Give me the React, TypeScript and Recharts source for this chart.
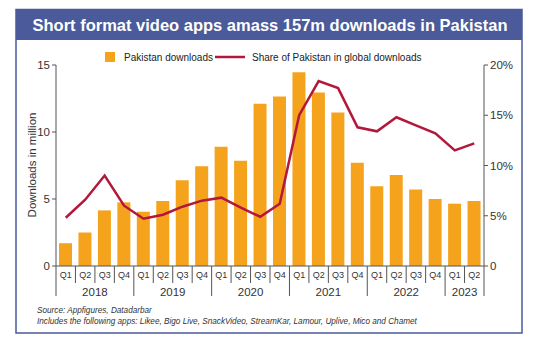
import React from "react";
import { ComposedChart, Bar, Line, XAxis, YAxis } from "recharts";

const categories = [
  "2018 Q1", "2018 Q2", "2018 Q3", "2018 Q4",
  "2019 Q1", "2019 Q2", "2019 Q3", "2019 Q4",
  "2020 Q1", "2020 Q2", "2020 Q3", "2020 Q4",
  "2021 Q1", "2021 Q2", "2021 Q3", "2021 Q4",
  "2022 Q1", "2022 Q2", "2022 Q3", "2022 Q4",
  "2023 Q1", "2023 Q2",
];
const downloads = [
  1.7, 2.5, 4.15, 4.75,
  4.05, 4.85, 6.4, 7.45,
  8.9, 7.85, 12.1, 12.65,
  14.45, 12.95, 11.45, 7.7,
  5.95, 6.8, 5.7, 5.0,
  4.65, 4.85,
];
const share = [
  4.8, 6.6, 9.0, 6.0,
  4.7, 5.1, 5.9, 6.5,
  6.8, 5.8, 4.9, 6.2,
  15.0, 18.4, 17.7, 13.8,
  13.4, 14.8, 14.0, 13.2,
  11.5, 12.2,
];
const leftTicks = [0, 5, 10, 15];
const rightTicks = [0, 5, 10, 15, 20];

const title = "Short format video apps amass 157m downloads in Pakistan";
const legendBar = "Pakistan downloads";
const legendLine = "Share of Pakistan in global downloads";
const yLabel = "Downloads in million";
const footer1 = "Source: Appfigures, Datadarbar";
const footer2 =
  "Includes the following apps: Likee, Bigo Live, SnackVideo, StreamKar, Lamour, Uplive, Mico and Chamet";

const data = categories.map((c, i) => ({
  name: c,
  year: c.split(" ")[0],
  q: c.split(" ")[1],
  downloads: downloads[i],
  share: share[i],
}));

const W = 550;
const H = 355;
const PLOT_LEFT = 56;
const PLOT_RIGHT = 484;
const BW = (PLOT_RIGHT - PLOT_LEFT) / categories.length;
const FONT = "'Liberation Sans', Arial, sans-serif";
const BLUE = "#4a5a9a";
const ORANGE = "#f5a31c";
const RED = "#b3173c";
const AXIS = "#555";

const QTick = (props: any) => {
  const { x, y, payload } = props;
  const i = payload.index;
  const d = data[i];
  if (!d) return null;
  const first = i === 0 || data[i - 1].year !== d.year;
  const isLast = i === data.length - 1;
  const count = data.filter((e) => e.year === d.year).length;
  return (
    <g>
      <line x1={x - BW / 2} x2={x - BW / 2} y1={y} y2={first ? y + 30 : y + 17} stroke={AXIS} strokeWidth={1} />
      {isLast && <line x1={x + BW / 2} x2={x + BW / 2} y1={y} y2={y + 30} stroke={AXIS} strokeWidth={1} />}
      <text x={x} y={y + 9} textAnchor="middle" dominantBaseline="central" fontSize={9} fill="#333" fontFamily={FONT}>
        {d.q}
      </text>
      {first && (
        <text
          x={x + ((count - 1) / 2) * BW}
          y={y + 26}
          textAnchor="middle"
          dominantBaseline="central"
          fontSize={11.5}
          fill="#333"
          fontFamily={FONT}
        >
          {d.year}
        </text>
      )}
    </g>
  );
};

export default function App() {
  return (
    <div style={{ position: "absolute", left: 0, top: 0, width: W, height: H, background: "#fff" }}>
      <svg width={W} height={H} style={{ position: "absolute", left: 0, top: 0 }}>
        <rect x={16} y={9.5} width={506} height={323.5} fill="#fff" stroke={BLUE} strokeWidth={1.5} />
        <rect x={16} y={9.5} width={506} height={30.5} fill={BLUE} />
        <text x={270} y={31} textAnchor="middle" fontSize={16.5} fontWeight="bold" fill="#fff" fontFamily={FONT}>
          {title}
        </text>
        <rect x={105} y={52} width={10} height={10} fill={ORANGE} />
        <text x={124} y={57} dominantBaseline="central" fontSize={10} fill="#222" fontFamily={FONT}>
          {legendBar}
        </text>
        <line x1={215} x2={245} y1={57} y2={57} stroke={RED} strokeWidth={2.5} />
        <text x={252} y={57} dominantBaseline="central" fontSize={10} fill="#222" fontFamily={FONT}>
          {legendLine}
        </text>
        <text
          x={32}
          y={165}
          transform="rotate(-90 32 165)"
          textAnchor="middle"
          dominantBaseline="central"
          fontSize={11.5}
          fill="#333"
          fontFamily={FONT}
        >
          {yLabel}
        </text>
        <text x={37} y={313} fontSize={8.2} fontStyle="italic" fill="#333" fontFamily={FONT}>
          {footer1}
        </text>
        <text x={37} y={324} fontSize={8.2} fontStyle="italic" fill="#333" fontFamily={FONT}>
          {footer2}
        </text>
      </svg>
      <div style={{ position: "absolute", left: 0, top: 0 }}>
        <ComposedChart
          width={W}
          height={H}
          data={data}
          margin={{ top: 65, left: 11, right: 28, bottom: 49 }}
          style={{ fontFamily: FONT }}
        >
          <XAxis
            dataKey="name"
            xAxisId="x"
            interval={0}
            tickLine={false}
            tickSize={0}
            tickMargin={0}
            height={40}
            stroke={AXIS}
            tick={<QTick />}
          />
          <YAxis
            yAxisId="left"
            orientation="left"
            width={45}
            domain={[0, 15]}
            ticks={leftTicks}
            tickSize={4}
            tickMargin={2}
            stroke={AXIS}
            tick={{ fontSize: 11.5, fill: "#333" }}
          />
          <YAxis
            yAxisId="right"
            orientation="right"
            width={38}
            domain={[0, 20]}
            ticks={rightTicks}
            tickSize={4}
            tickMargin={2}
            stroke={AXIS}
            tickFormatter={(v: number) => (v === 0 ? "0" : `${v}%`)}
            tick={{ fontSize: 11.5, fill: "#333" }}
          />
          <Bar xAxisId="x" yAxisId="left" dataKey="downloads" fill={ORANGE} barSize={13} isAnimationActive={false} />
          <Line
            xAxisId="x"
            yAxisId="right"
            type="linear"
            dataKey="share"
            stroke={RED}
            strokeWidth={2.5}
            dot={false}
            isAnimationActive={false}
          />
        </ComposedChart>
      </div>
    </div>
  );
}
